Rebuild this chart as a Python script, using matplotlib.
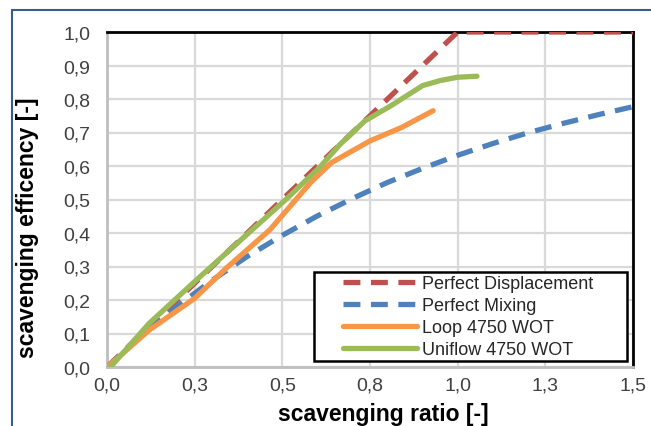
import matplotlib.pyplot as plt
from matplotlib.patches import Rectangle

plt.rcParams['font.family'] = ['Liberation Sans', 'DejaVu Sans']

# Perfect displacement
disp_x = [0.0, 1.0, 1.5]
disp_y = [0.0, 1.0, 1.0]

# Perfect mixing
mix_x = [0.0, 0.1, 0.2, 0.3, 0.4, 0.5, 0.6, 0.7, 0.8, 0.9, 1.0, 1.1, 1.2, 1.3, 1.4, 1.5]
mix_y = [0.0, 0.095, 0.181, 0.259, 0.330, 0.393, 0.451, 0.503, 0.551, 0.593, 0.632, 0.667, 0.699, 0.727, 0.753, 0.777]

# Loop 4750 WOT
loop_x = [0.0, 0.05, 0.12, 0.25, 0.34, 0.465, 0.58, 0.64, 0.75, 0.84, 0.93]
loop_y = [0.0, 0.045, 0.11, 0.205, 0.295, 0.41, 0.55, 0.61, 0.675, 0.715, 0.765]

# Uniflow 4750 WOT
uni_x = [0.01, 0.12, 0.25, 0.34, 0.51, 0.61, 0.665, 0.736, 0.81, 0.855, 0.90, 0.95, 1.0, 1.055]
uni_y = [0.0, 0.13, 0.255, 0.34, 0.5, 0.6, 0.665, 0.735, 0.78, 0.81, 0.84, 0.855, 0.865, 0.868]

x_ticks = [0.0, 0.25, 0.5, 0.75, 1.0, 1.25, 1.5]
x_tick_labels = ["0,0", "0,3", "0,5", "0,8", "1,0", "1,3", "1,5"]
y_ticks = [0.0, 0.1, 0.2, 0.3, 0.4, 0.5, 0.6, 0.7, 0.8, 0.9, 1.0]
y_tick_labels = ["0,0", "0,1", "0,2", "0,3", "0,4", "0,5", "0,6", "0,7", "0,8", "0,9", "1,0"]

W, H = 651, 427
fig = plt.figure(figsize=(W / 100, H / 100), dpi=100)
ax = fig.add_axes([107 / W, 1 - 368 / H, (633 - 107) / W, (368 - 33) / H])

ax.plot(disp_x, disp_y, color="#C0504D", lw=3.8, dashes=(3.2, 2.0), label="Perfect Displacement", zorder=3)
ax.plot(mix_x, mix_y, color="#4F81BD", lw=3.8, dashes=(3.2, 2.0), label="Perfect Mixing", zorder=3)
ax.plot(loop_x, loop_y, color="#F79646", lw=3.8, label="Loop 4750 WOT", zorder=4, solid_capstyle="round")
ax.plot(uni_x, uni_y, color="#9BBB59", lw=3.8, label="Uniflow 4750 WOT", zorder=5, solid_capstyle="round")

ax.set_xlim(0, 1.5)
ax.set_ylim(0, 1.0)
ax.set_xticks(x_ticks)
ax.set_xticklabels(x_tick_labels)
ax.set_yticks(y_ticks)
ax.set_yticklabels(y_tick_labels)
ax.tick_params(axis="both", length=0, labelsize=14, colors="#404040")
ax.tick_params(axis="y", pad=12)
ax.tick_params(axis="x", pad=7)
ax.grid(True, color="#D9D9D9", lw=1.6)
ax.set_axisbelow(True)

for side in ["left", "bottom"]:
    ax.spines[side].set_color("#BFBFBF")
    ax.spines[side].set_linewidth(2)
for side in ["top", "right"]:
    ax.spines[side].set_color("black")
    ax.spines[side].set_linewidth(2)

ax.set_xlabel("scavenging ratio [-]", fontsize=16.5, fontweight="bold")
ax.set_ylabel("scavenging efficency [-]", fontsize=16.5, fontweight="bold")
ax.xaxis.set_label_coords(0.525, -0.104)
ax.yaxis.set_label_coords(-0.13, 0.418)

# legend box drawn by hand (wide padding like the original)
ax.add_patch(Rectangle((0.3935, 0.018), 0.595, 0.266, transform=ax.transAxes,
                       facecolor="white", edgecolor="black", lw=1.8, zorder=6, clip_on=False))
leg = ax.legend(loc="upper left", bbox_to_anchor=(0.4487, 0.274), fontsize=13, frameon=False,
                handlelength=4.1, handletextpad=0.3, labelspacing=0.28,
                borderpad=0, borderaxespad=0)
leg.set_zorder(7)
for t in leg.get_texts():
    t.set_color("#262626")

# outer chart frame
fig.patches.append(Rectangle((12 / W, -0.1), 1.2, 1.1 - 11 / H, transform=fig.transFigure,
                             fill=False, edgecolor="#385D8A", lw=1.5))

fig.savefig("out.png", dpi=100)
